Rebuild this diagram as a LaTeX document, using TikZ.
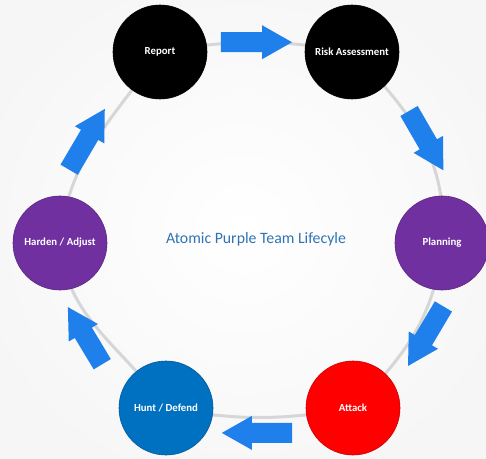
\documentclass[tikz,border=0pt]{standalone}
\usepackage{fontspec}
\setmainfont{Carlito}
\usetikzlibrary{calc}

\definecolor{arrowblue}{HTML}{1F80EC}
\definecolor{stageblack}{HTML}{000000}
\definecolor{stagepurple}{HTML}{7030A0}
\definecolor{stagered}{HTML}{FF0000}
\definecolor{stageblue}{HTML}{0070C0}
\definecolor{titleblue}{HTML}{2E74B5}
\definecolor{ringgray}{HTML}{D6D6D6}
\definecolor{paper}{HTML}{F6F6F6}

\tikzset{
  stage/.style={circle, minimum size=94pt, inner sep=0pt, outer sep=0pt,
    fill=#1, draw=#1!80!black, line width=0.6pt,
    text=white, font=\fontsize{10.8}{12}\selectfont\bfseries},
  ring/.style={draw=ringgray, line width=3pt},
  title/.style={text=titleblue, font=\fontsize{15.8}{18}\selectfont}
}

% Block arrow between two node anchors, pulled back from each end
% #1 start anchor, #2 end anchor, #3 gap at start, #4 gap at end
\newcommand\flowarrow[4]{%
  \coordinate (fa-a) at (#1);
  \coordinate (fa-b) at (#2);
  \coordinate (fa-s) at ($(fa-a)!#3!(fa-b)$);
  \coordinate (fa-e) at ($(fa-b)!#4!(fa-a)$);
  \coordinate (fa-h) at ($(fa-e)!30pt!(fa-s)$);
  \fill[arrowblue]
    ($(fa-s)!10pt!90:(fa-e)$) -- ($(fa-h)!10pt!90:(fa-e)$) --
    ($(fa-h)!17pt!90:(fa-e)$) -- (fa-e) --
    ($(fa-h)!17pt!-90:(fa-e)$) -- ($(fa-h)!10pt!-90:(fa-e)$) --
    ($(fa-s)!10pt!-90:(fa-e)$) -- cycle;
}

\begin{document}
\begin{tikzpicture}[x=1pt, y=1pt]
  \useasboundingbox (0,0) rectangle (486,458);
  \clip (0,0) rectangle (486,458);
  \shade[inner color=white, outer color=paper] (-40,-40) rectangle (526,498);

  % stage positions
  \coordinate (c-report)   at (160,406);
  \coordinate (c-risk)     at (352,406);
  \coordinate (c-planning) at (442,215);
  \coordinate (c-attack)   at (353,50);
  \coordinate (c-hunt)     at (166,50);
  \coordinate (c-harden)   at (60,215);

  % background ring linking the stages
  \draw[ring] (c-report) to[out=10,in=170] (c-risk)
    to[out=-45,in=85] (c-planning)
    to[out=-95,in=45] (c-attack)
    to[out=190,in=-10] (c-hunt)
    to[out=125,in=-85] (c-harden)
    to[out=85,in=-125] (c-report);

  % stages
  \node[stage=stageblack]  (report)   at (c-report)   {Report};
  \node[stage=stageblack]  (risk)     at (c-risk)     {Risk Assessment};
  \node[stage=stagepurple] (planning) at (c-planning) {Planning};
  \node[stage=stagered]    (attack)   at (c-attack)   {Attack};
  \node[stage=stageblue]   (hunt)     at (c-hunt)     {Hunt / Defend};
  \node[stage=stagepurple] (harden)   at (c-harden)   {Harden / Adjust};

  \node[title] (lifecycle) at (256,219) {Atomic Purple Team Lifecyle};

  % flow between stages
  \flowarrow{report.12}{risk.168}{15pt}{14pt}
  \flowarrow{risk.-35}{planning.67}{37pt}{34pt}
  \flowarrow{planning.-75}{attack.26}{21pt}{25pt}
  \flowarrow{attack.-148}{hunt.-32}{21pt}{16pt}
  \flowarrow{hunt.164}{harden.-93}{36pt}{20pt}
  \flowarrow{harden.98}{report.-144}{31pt}{34pt}
\end{tikzpicture}
\end{document}
